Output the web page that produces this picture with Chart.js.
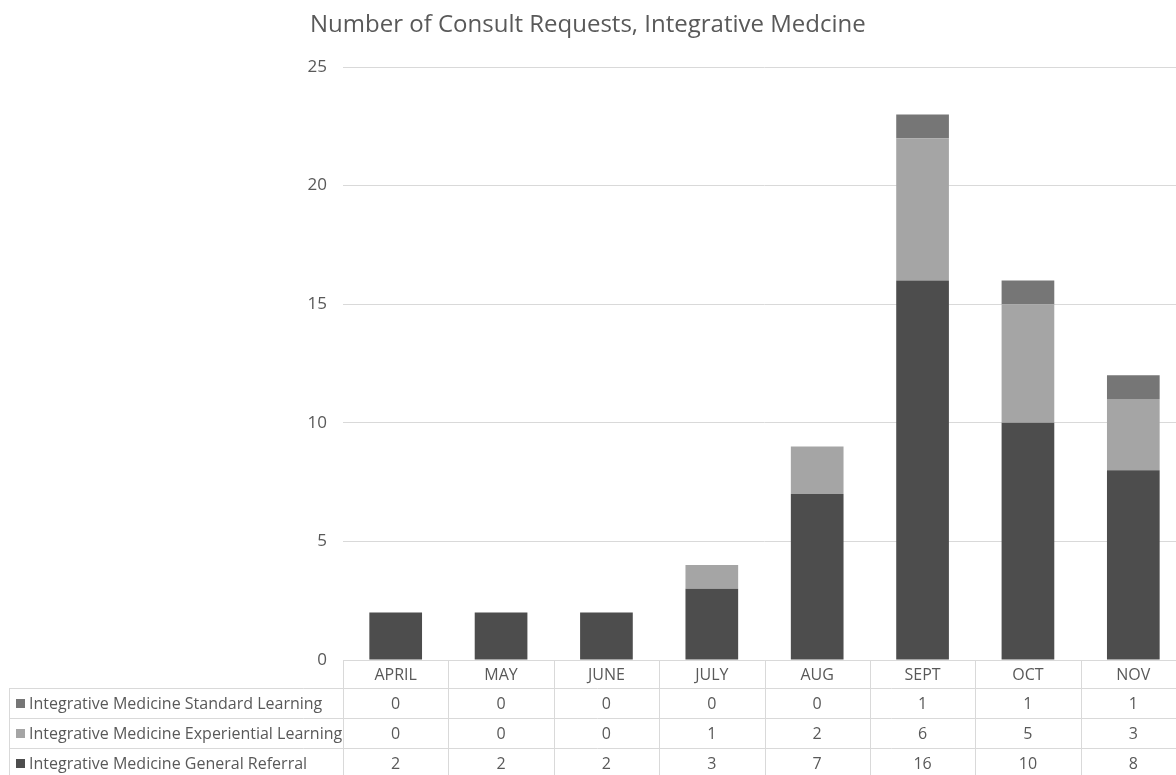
<!DOCTYPE html>
<html>
<head>
<meta charset="utf-8">
<script src="https://cdn.jsdelivr.net/npm/chart.js@4.4.1/dist/chart.umd.min.js"></script>
<style>
  html, body { margin:0; padding:0; background:#fff; overflow:hidden; }
  #wrap { width:1200px; height:775px; }
</style>
</head>
<body>
<div id="wrap"><canvas id="consultChart" width="1200" height="775"></canvas></div>
<script>
// chart data
const months = ['APRIL','MAY','JUNE','JULY','AUG','SEPT','OCT','NOV'];
const generalReferral = [2, 2, 2, 3, 7, 16, 10, 8];
const experientialLearning = [0, 0, 0, 1, 2, 6, 5, 3];
const standardLearning = [0, 0, 0, 0, 0, 1, 1, 1];
const yTicks = [0, 5, 10, 15, 20, 25];

const titleText = 'Number of Consult Requests, Integrative Medcine';
const FONT = '"Open Sans", sans-serif';
const TXT = '#595959';
const LINE = '#d9d9d9';

const series = [
    { label:'Integrative Medicine General Referral', data: generalReferral, color:'#4d4d4d' },
    { label:'Integrative Medicine Experiential Learning', data: experientialLearning, color:'#a5a5a5' },
    { label:'Integrative Medicine Standard Learning', data: standardLearning, color:'#767676' }
];

// title + data table under the plot (excel style)
const tablePlugin = {
    id: 'dataTable',
    afterDraw(chart){
        const ctx = chart.ctx;
        const x = chart.scales.x;
        const area = chart.chartArea;
        const half = (x.getPixelForValue(1) - x.getPixelForValue(0)) / 2;
        const left = x.getPixelForValue(0) - half;
        const right = x.getPixelForValue(months.length-1) + half;
        const top = area.bottom;
        const headH = 28, rowH = 30, labelLeft = 9;
        const rows = series.slice().reverse(); // top row = last stacked series
        const bottom = top + headH + rowH*rows.length;

        ctx.save();
        // title
        ctx.fillStyle = TXT;
        ctx.font = '24px ' + FONT;
        ctx.textAlign = 'left';
        ctx.textBaseline = 'alphabetic';
        ctx.fillText(titleText, 310, 32);

        // grid lines
        ctx.strokeStyle = LINE;
        ctx.lineWidth = 1;
        ctx.beginPath();
        ctx.moveTo(left, top + 0.5); ctx.lineTo(right, top + 0.5);
        for (let r = 0; r <= rows.length; r++){
            const y = Math.round(top + headH + rowH*r) + 0.5;
            ctx.moveTo(labelLeft, y); ctx.lineTo(right, y);
        }
        for (let i = 0; i <= months.length; i++){
            const xx = Math.round(left + half*2*i) + 0.5;
            ctx.moveTo(xx, top); ctx.lineTo(xx, bottom);
        }
        ctx.moveTo(labelLeft + 0.5, top + headH); ctx.lineTo(labelLeft + 0.5, bottom);
        ctx.stroke();

        // header + values
        ctx.font = '16px ' + FONT;
        ctx.textBaseline = 'middle';
        ctx.textAlign = 'center';
        months.forEach((m, i) => {
            const cx = x.getPixelForValue(i);
            ctx.fillText(m, cx, top + headH/2 + 1);
            rows.forEach((s, r) => {
                ctx.fillText(String(s.data[i]), cx, top + headH + rowH*r + rowH/2 + 1);
            });
        });

        // row labels with colour keys
        ctx.textAlign = 'left';
        rows.forEach((s, r) => {
            const cy = top + headH + rowH*r + rowH/2;
            ctx.fillStyle = s.color;
            ctx.fillRect(16, cy - 4, 9, 9);
            ctx.fillStyle = TXT;
            ctx.fillText(s.label, 29, cy + 1);
        });
        ctx.restore();
    }
};

const ctx = document.getElementById('consultChart').getContext('2d');
new Chart(ctx, {
    type: 'bar',
    data: {
        labels: months,
        datasets: series.map(s => ({
            label: s.label,
            data: s.data,
            backgroundColor: s.color,
            borderWidth: 0,
            categoryPercentage: 1,
            barPercentage: 0.5
        }))
    },
    options: {
        responsive: false,
        animation: false,
        layout: { padding: { top: 67, right: 14, bottom: 115, left: 0 } },
        plugins: { legend: { display:false }, title: { display:false }, tooltip: { enabled:false } },
        scales: {
            x: {
                stacked: true,
                display: false
            },
            y: {
                stacked: true,
                min: 0,
                max: 25,
                afterBuildTicks: axis => { axis.ticks = yTicks.map(v => ({ value: v })); },
                afterFit: axis => { axis.width = 343; },
                grid: { color: LINE, drawTicks: false },
                border: { display: false },
                ticks: { color: TXT, padding: 16, font: { family: FONT, size: 17 } }
            }
        }
    },
    plugins: [tablePlugin]
});
</script>
</body>
</html>
